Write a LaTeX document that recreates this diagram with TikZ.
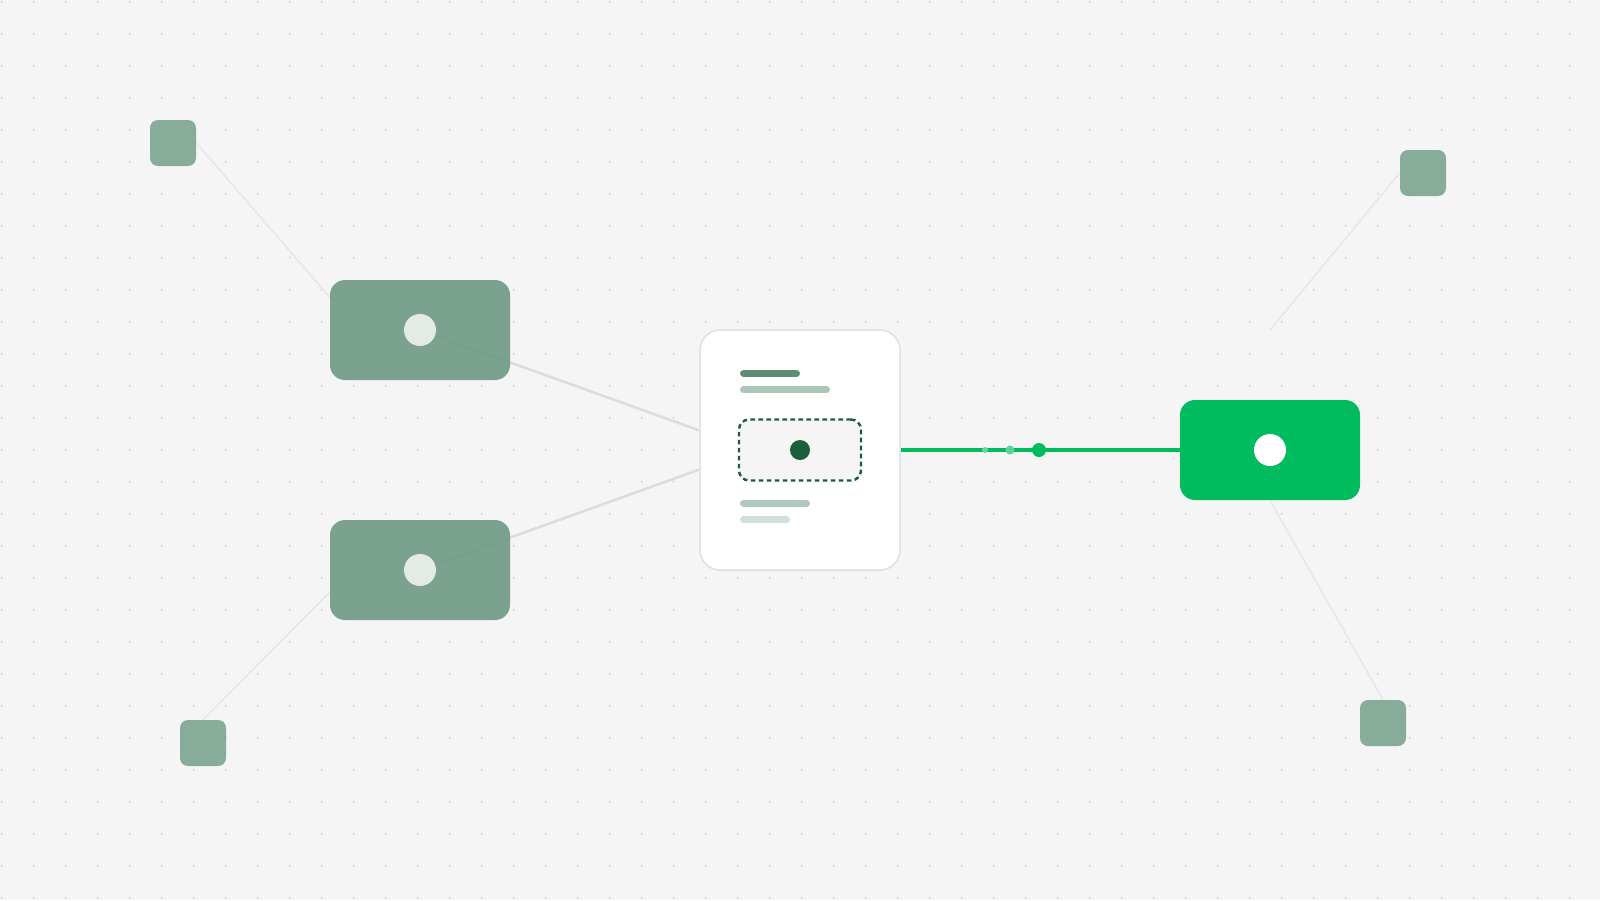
\documentclass[tikz,border=0pt]{standalone}
\usepackage{tikz}

\definecolor{bggray}{HTML}{F5F5F5}
\definecolor{dotgray}{HTML}{D6D6D6}
\definecolor{linegray}{HTML}{DCDCDC}
\definecolor{sagegreen}{HTML}{6D9A84}
\definecolor{portgray}{HTML}{E4EAE6}
\definecolor{hubgreen}{HTML}{00BC5E}
\definecolor{deepgreen}{HTML}{1B5E3E}
\definecolor{cardborder}{HTML}{E0E0E0}
\definecolor{barone}{HTML}{5E8C74}
\definecolor{bartwo}{HTML}{A9C6B7}
\definecolor{barthree}{HTML}{B0C9BC}
\definecolor{barfour}{HTML}{D0E0D7}

\pgfdeclarelayer{back}
\pgfsetlayers{back,main}

\tikzset{
  sidebox/.style={rectangle, rounded corners=7.5pt, fill=sagegreen, fill opacity=0.9, minimum width=90pt, minimum height=50pt, inner sep=0pt},
  smallsq/.style={rectangle, rounded corners=4pt, fill=sagegreen, fill opacity=0.8, minimum size=23pt, inner sep=0pt},
  port/.style={circle, fill=portgray, minimum size=16pt, inner sep=0pt},
  link/.style={draw=linegray, line width=1.25pt},
  thinlink/.style={draw=linegray!55!bggray, line width=0.75pt},
  bar/.style={line width=3.5pt, line cap=round},
  pulse/.style={circle, inner sep=0pt},
}

\begin{document}
\begin{tikzpicture}[x=0.5pt,y=-0.5pt]
\useasboundingbox (0,0) rectangle (1600,900);

\node[smallsq] (sqTL) at (173,143) {};
\node[smallsq] (sqBL) at (203,743) {};
\node[smallsq] (sqTR) at (1423,173) {};
\node[smallsq] (sqBR) at (1383,723) {};

\node[sidebox] (boxA) at (420,330) {};
\node[sidebox] (boxB) at (420,570) {};
\node[port] (dotA) at (420,330) {};
\node[port] (dotB) at (420,570) {};

\node[rectangle, rounded corners=10pt, fill=white, draw=cardborder, line width=0.75pt, minimum width=100pt, minimum height=120pt, inner sep=0pt] (card) at (800,450) {};
\node[rectangle, rounded corners=5pt, fill=bggray, draw=deepgreen, line width=1.2pt, dash pattern=on 2.3pt off 1.7pt, minimum width=61pt, minimum height=30.5pt, inner sep=0pt] (slot) at (800,450) {};
\node[circle, fill=deepgreen, minimum size=10pt, inner sep=0pt] (core) at (800,450) {};

\draw[bar, barone] (743.5,373.5) -- (796.5,373.5);
\draw[bar, bartwo] (743.5,389.5) -- (826.5,389.5);
\draw[bar, barthree] (743.5,503.5) -- (806.5,503.5);
\draw[bar, barfour] (743.5,519.5) -- (786.5,519.5);

\node[rectangle, rounded corners=7.5pt, fill=hubgreen, minimum width=90pt, minimum height=50pt, inner sep=0pt] (hub) at (1270,450) {};
\node[port, fill=white] (hubport) at (1270,450) {};

\draw[hubgreen, line width=1.75pt] (card.east) -- (hub.west);
\node[pulse, fill=hubgreen!60!white, minimum size=3pt] (p1) at (985,450) {};
\node[pulse, fill=hubgreen!65!white, minimum size=4.5pt] (p2) at (1010,450) {};
\node[pulse, fill=hubgreen, minimum size=7pt] (p3) at (1039,450) {};

\coordinate (fadeTR) at (1270,330);

\begin{pgfonlayer}{back}
\fill[bggray] (0,0) rectangle (1600,900);
\foreach \i in {0,...,49}
  \foreach \j in {0,...,28}
    \fill[dotgray] (1.7+32*\i,1.7+32*\j) circle (1.2);
\draw[thinlink] (sqTL.east) -- (boxA.160);
\draw[thinlink] (sqBL.north) -- (boxB.194);
\draw[link] (dotA.center) -- (card.169);
\draw[link] (dotB.center) -- (card.191.6);
\draw[thinlink] (sqTR.west) -- (fadeTR);
\draw[thinlink] (hub.south) -- (sqBR.north);
\end{pgfonlayer}
\end{tikzpicture}
\end{document}
